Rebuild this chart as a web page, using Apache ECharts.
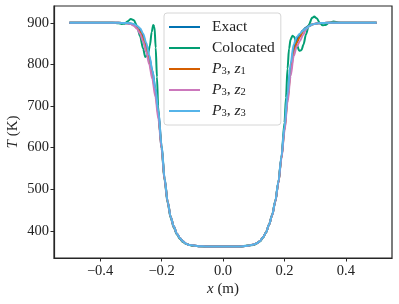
<!DOCTYPE html>
<html><head><meta charset="utf-8">
<script src="https://cdn.jsdelivr.net/npm/echarts@6/dist/echarts.min.js"></script>
<style>html,body{margin:0;padding:0;background:#fff}#c{width:399px;height:304px}</style>
</head><body><div id="c"></div>
<script>
// shared x grid for Exact and P3 curves
const xs = [-0.5,-0.45,-0.4,-0.36,-0.34,-0.32,-0.31,
  -0.3,-0.29,-0.28,-0.27,-0.26,-0.25,-0.24,-0.23,-0.22,-0.21,-0.2,-0.19,-0.18,-0.17,-0.16,-0.15,-0.14,-0.13,-0.12,-0.11,-0.1,
  -0.08,-0.05,0,0.05,0.08,
  0.1,0.11,0.12,0.13,0.14,0.15,0.16,0.17,0.18,0.19,0.2,0.21,0.22,0.23,0.24,0.25,0.26,0.27,0.28,0.29,0.3,0.31,0.32,
  0.34,0.36,0.4,0.45,0.5];
const tExact = [900,900,900,900,900,899.5,899,
  898,895,890,882,869,846,818,785,742,685,605,525,470,433,410,393,382,374,369,366,365,
  363,362,362,362,364,
  367,370,375,384,396,415,438,470,515,575,645,720,790,838,860,872,882,889,893,896,898,899,899.5,
  900,900,900,900,900];
const tZ1 = [900,900,900,900,900,899.5,899,
  898,894,888,878,862,838,808,774,732,677,602,524,470,433,410,393,382,374,369,366,365,
  363,362,362,362,364,
  367,370,375,384,396,415,438,470,515,574,642,715,782,828,852,866,878,887,892,896,898,899,899.5,
  900,900,900,900,900];
const tZ2 = [900,900,900,900,900,899.5,898.5,
  897,893,886,874,855,830,800,765,722,668,598,522,468,432,409,393,382,374,369,366,365,
  363,362,362,362,364,
  367,370,375,384,396,415,437,469,513,572,638,708,772,820,843,856,870,884,892,896,898,899,899.5,
  900,900,900,900,900];
const tZ3 = [900,900,900,900,900,899.8,899.5,
  899,897,893,887,874,852,822,786,742,686,606,526,470,433,410,393,382,374,369,366,365,
  363,362,362,362,364,
  367,370,375,384,396,415,438,471,517,578,650,730,802,848,866,874,881,887,892,896,898,899,899.5,
  900,900,900,900,900];
// colocated curve on its own x grid
const xColoc = [-0.5,-0.4,-0.36,-0.34,-0.33,-0.32,-0.31,-0.3,-0.29,-0.28,-0.27,-0.26,-0.253,-0.245,-0.238,
  -0.232,-0.227,-0.223,-0.219,-0.215,-0.211,-0.206,-0.2,-0.19,-0.18,-0.17,-0.16,-0.15,-0.14,-0.13,-0.12,-0.1,-0.05,0,0.05,
  0.1,0.12,0.13,0.14,0.15,0.16,0.17,0.18,0.19,0.2,0.205,0.21,0.215,0.22,0.226,0.232,0.24,0.248,0.255,0.262,
  0.27,0.28,0.29,0.297,0.305,0.315,0.324,0.333,0.345,0.36,0.375,0.39,0.5];
const tColoc = [900,900,900,899,897.5,898,904,909,906,893,868,838,818,822,845,
  878,895,890,840,770,700,640,598,520,466,430,407,391,380,373,368,364,362,362,362,
  366,374,383,396,415,438,470,515,575,660,720,790,838,860,869,866,848,833,834,848,
  872,896,912,915,911,900,894,895,900,903,901,900,900];
const xTicks = [-0.4,-0.2,0,0.2,0.4];
const yTicks = [400,500,600,700,800,900];
const names = ['Exact','Colocated','P3, z1','P3, z2','P3, z3'];
const colors = ['#0173b2','#029e73','#d55e00','#cc78bc','#56b4e9'];

const pair = (x, y) => x.map((v, i) => [v, y[i]]);
const serif = 'Liberation Serif, DejaVu Serif, serif';
const sets = [pair(xs,tExact), pair(xColoc,tColoc), pair(xs,tZ1), pair(xs,tZ2), pair(xs,tZ3)];

const chart = echarts.init(document.getElementById('c'), null, {renderer:'canvas'});
chart.setOption({
  animation: false,
  backgroundColor: '#fff',
  grid: {left: 54, top: 6, right: 7, bottom: 46, outerBoundsMode: 'none', containLabel: false,
    show: true, borderColor: '#262626', borderWidth: 1.2, backgroundColor: 'transparent'},
  xAxis: {
    type: 'value', min: -0.55, max: 0.55,
    name: '{i|x} (m)', nameLocation: 'middle', nameGap: 24, nameMoveOverlap: false,
    nameTextStyle: {fontFamily: serif, fontSize: 15, color: '#222', rich: {i: {fontFamily: serif, fontStyle: 'italic', fontSize: 15, color:'#222'}}},
    axisLine: {show: true, onZero: false, lineStyle: {color: '#262626', width: 1.2}},
    axisTick: {show: true, length: 3.5, customValues: xTicks, lineStyle: {color: '#262626', width: 1}},
    axisLabel: {customValues: xTicks, margin: 6, fontFamily: serif, fontSize: 14.5, color: '#222',
      formatter: v => v.toFixed(1).replace('-', '\u2212')},
    splitLine: {show: false}
  },
  yAxis: {
    type: 'value', min: 334.5, max: 940.5,
    name: '{i|T} (K)', nameLocation: 'middle', nameGap: 33, nameRotate: 90, nameMoveOverlap: false,
    nameTextStyle: {fontFamily: serif, fontSize: 15, color: '#222', rich: {i: {fontFamily: serif, fontStyle: 'italic', fontSize: 15, color:'#222'}}},
    axisLine: {show: true, onZero: false, lineStyle: {color: '#262626', width: 1.2}},
    axisTick: {show: true, length: 3.5, customValues: yTicks, lineStyle: {color: '#262626', width: 1}},
    axisLabel: {customValues: yTicks, margin: 5, fontFamily: serif, fontSize: 14.5, color: '#222'},
    splitLine: {show: false}
  },
  legend: {
    orient: 'vertical', left: 164, top: 13,
    padding: [6, 6, 6, 5], itemGap: 5, itemWidth: 31, itemHeight: 2, icon: 'rect',
    backgroundColor: 'rgba(255,255,255,0.85)', borderColor: '#d6d6d6', borderWidth: 1, borderRadius: 3,
    data: names,
    formatter: n => {
      if (n.startsWith('P3')) return '{c|P}{s|3}{t|, }{i|z}{s|' + n.slice(-1) + '}';
      return '{t|' + n + '}';
    },
    textStyle: {
      fontFamily: serif, fontSize: 15, color: '#222', padding: [0,0,0,7],
      rich: {
        t: {fontFamily: serif, fontSize: 15.5, color: '#222', lineHeight: 16},
        c: {fontFamily: serif, fontStyle: 'italic', fontSize: 15.5, color: '#222', lineHeight: 16},
        i: {fontFamily: serif, fontStyle: 'italic', fontSize: 15.5, color: '#222', lineHeight: 16},
        s: {fontFamily: serif, fontSize: 10.5, color: '#222', lineHeight: 9, verticalAlign: 'bottom'}
      }
    }
  },
  series: sets.map((d, i) => ({
    name: names[i], type: 'line', data: d, showSymbol: false, symbol: 'none',
    smooth: 0.3, smoothMonotone: 'x',
    lineStyle: {color: colors[i], width: 2}, itemStyle: {color: colors[i]},
    z: 2 + i
  }))
});
</script></body></html>
